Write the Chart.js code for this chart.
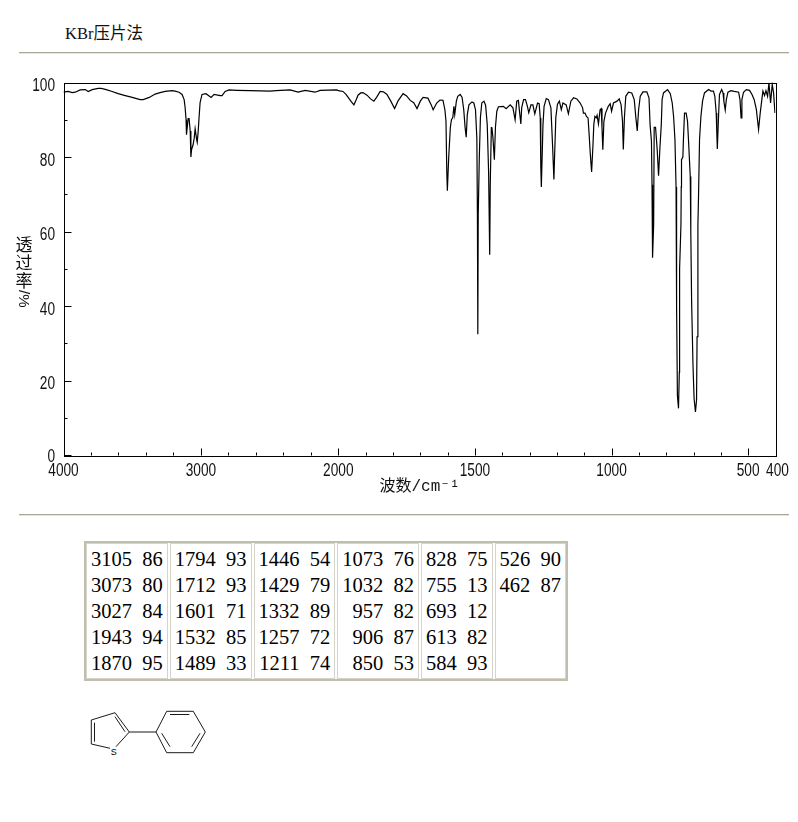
<!DOCTYPE html>
<html>
<head>
<meta charset="utf-8">
<title>KBr</title>
<script src="https://cdn.jsdelivr.net/npm/chart.js@4/dist/chart.umd.js"></script>
<style>
html, body { margin: 0; padding: 0; background: #fff; width: 798px; height: 822px; overflow: hidden; }
#spectrum { position: absolute; left: 0; top: 60px; }
.rule { position: absolute; left: 19px; width: 770px; height: 1px; background: #aca899; border-bottom: 1px solid #e4e3dc; }
#method { position: absolute; left: 65px; top: 20px; font: 16.5px "Liberation Serif", "Noto Sans CJK SC", serif; color: #111; }
#ylabel { position: absolute; left: 15px; top: 235px; width: 18px; font: 17px/18px "Noto Sans CJK SC", sans-serif; color: #111; text-align: center; }
#ylabel span { display: block; }
#ylabel .side { writing-mode: vertical-rl; text-orientation: sideways; height: 20px; line-height: 18px; font-family: "Liberation Sans", sans-serif; font-size: 15px; }
#peaks { position: absolute; left: 84px; top: 541px; display: flex; gap: 2px; border: 2px solid #c0bead; font: 20.5px/26px "Liberation Serif", serif; color: #000; }
#peaks div { border: 1px solid #d6d4c9; padding: 2px 4px 2px 4px; height: 130px; text-align: right; white-space: pre; }
#molecule { position: absolute; left: 80px; top: 700px; }
</style>
</head>
<body>
<div id="method">KBr压片法</div>
<div class="rule" style="top:52px"></div>
<canvas id="spectrum" width="798" height="450"></canvas>
<div id="ylabel"><span>透</span><span>过</span><span>率</span><span class="side">/%</span></div>
<div class="rule" style="top:514px"></div>
<div id="peaks"></div>
<svg id="molecule" width="135" height="62" viewBox="80 700 135 62" fill="none" stroke="#000" stroke-width="0.9">
  <path d="M110 748.3 L91.3 744 L91.3 720 L115 712.7 L129.3 732 L116 746.7"/>
  <path d="M94.5 722.7 V741.7 M115 716.7 L125 731.7"/>
  <path d="M129.3 732 H156 L166.7 711.3 H193.3 L205.3 732 L193.3 752.7 H166.7 L156 732"/>
  <path d="M170 714.5 H189.3 M191.7 746.7 L200 733.3 M161.7 733.3 L170 746.7"/>
  <text x="113.7" y="755" text-anchor="middle" fill="#000" stroke="none" font-family="Liberation Sans" font-size="9">S</text>
</svg>

<script>
// wavenumber (cm-1) and transmittance (%)
const wavenumbers = [
    4000, 3966, 3937, 3915, 3878, 3842, 3820, 3791, 3748, 3726,
    3689, 3646, 3602, 3551, 3500, 3442, 3420, 3376, 3333, 3297,
    3260, 3209, 3188, 3159, 3137, 3122, 3115, 3108, 3105, 3093,
    3086, 3078, 3073, 3068, 3057, 3049, 3042, 3031, 3027, 3020,
    3013, 3006, 2992, 2963, 2926, 2904, 2860, 2846, 2824, 2795,
    2737, 2642, 2497, 2453, 2351, 2293, 2242, 2169, 2133, 2010,
    2000, 1983, 1972, 1964, 1952, 1943, 1935, 1928, 1918, 1910,
    1895, 1882, 1870, 1860, 1847, 1835, 1822, 1808, 1794, 1782,
    1763, 1750, 1737, 1724, 1712, 1700, 1690, 1672, 1660, 1653,
    1640, 1628, 1617, 1610, 1606, 1603, 1601, 1596, 1590, 1586,
    1581, 1577, 1574, 1568, 1563, 1554, 1547, 1541, 1536, 1532,
    1528, 1522, 1511, 1504, 1498, 1493, 1491, 1490, 1489, 1488,
    1484, 1480, 1475, 1467, 1461, 1455, 1450, 1446, 1444, 1440,
    1438, 1434, 1429, 1425, 1420, 1414, 1396, 1386, 1371, 1361,
    1353, 1347, 1341, 1337, 1332, 1329, 1322, 1315, 1308, 1303,
    1295, 1288, 1281, 1271, 1265, 1261, 1259, 1257, 1251, 1247,
    1239, 1231, 1222, 1216, 1211, 1208, 1204, 1198, 1191, 1184,
    1178, 1166, 1158, 1149, 1139, 1127, 1115, 1106, 1103, 1097,
    1092, 1086, 1082, 1078, 1073, 1068, 1065, 1061, 1056, 1053,
    1048, 1042, 1038, 1035, 1032, 1028, 1022, 1012, 1005, 1000,
    993, 980, 972, 965, 960, 957, 953, 948, 938, 926,
    917, 911, 906, 901, 895, 885, 871, 863, 859, 854,
    852, 850, 846, 844, 839, 837, 833, 828, 823, 818,
    815, 810, 795, 785, 778, 773, 768, 764, 762, 759,
    755, 752, 751, 746, 745, 744, 739, 737, 733, 727,
    722, 718, 712, 710, 707, 702, 698, 693, 689, 687,
    684, 682, 678, 673, 667, 660, 645, 636, 627, 622,
    617, 615, 613, 608, 605, 597, 592, 589, 584, 580,
    574, 563, 551, 535, 530, 526, 523, 517, 507, 495,
    486, 478, 470, 462, 456, 450, 446, 440, 435, 429,
    424, 418, 412, 407, 402
];
const transmittance = [
    97.4, 97.6, 97.3, 97.4, 98, 98.1, 97.6, 98.1, 98.4, 98.4,
    98.1, 97.6, 97, 96.5, 96, 95.4, 95.4, 96, 96.9, 97.3,
    97.6, 97.8, 97.7, 97.4, 96.8, 95.4, 93.3, 90, 86, 90.3,
    90.3, 87, 80, 82, 83.3, 85, 87.6, 84.7, 84, 86.8,
    90.9, 94.6, 96.8, 97, 96, 96.8, 96.5, 96.5, 97.6, 98,
    97.9, 97.8, 97.7, 97.8, 98, 97.4, 97.9, 97.4, 97.9, 98,
    97.8, 97.6, 96.8, 96, 94.8, 94, 95.3, 96.6, 97.2, 97.3,
    96.6, 95.6, 95, 96, 97.6, 97.5, 96.8, 95, 93, 95,
    97, 96.4, 95.2, 94.6, 93, 95, 96, 95.8, 94, 92.7,
    94.5, 95.3, 95.2, 92.7, 89.6, 75.8, 71, 80, 88, 90,
    90.6, 93.6, 91.4, 95, 96.3, 96.8, 96, 92.7, 87.9, 85.3,
    91.4, 94, 94.8, 94.5, 92.7, 85, 64.5, 40, 32.5, 64.5,
    80, 90.6, 94.5, 95, 93.9, 88.7, 76, 53.8, 72.6, 87.9,
    88, 85, 79.3, 88, 92.3, 93.5, 93.6, 93, 94, 93.2,
    90, 95, 95.2, 92.3, 88.9, 93.2, 95.4, 95.4, 93.6, 91.9,
    94, 94, 91.6, 94.5, 94.3, 90.5, 77.5, 72, 88.7, 93.6,
    95.7, 95.4, 93.2, 83.3, 74, 81.5, 90.6, 94.2, 95, 92.7,
    94.5, 94, 91.6, 95, 95.9, 95.6, 94.5, 93.2, 91.8, 91.8,
    90.9, 90.5, 86, 81, 76, 83.3, 88.7, 90.9, 90.5, 91.2,
    88.9, 92.7, 93, 88, 82, 89.6, 91.8, 93.6, 94.3, 92.3,
    94.5, 95, 95.6, 94, 89.6, 82, 90.5, 96.3, 97.4, 97.2,
    95.4, 90.5, 87, 92.7, 96.3, 97.5, 97.5, 95.9, 88.7, 84.2,
    72.6, 53, 61.8, 88, 88, 86, 82, 75, 82.5, 88.7,
    95.4, 97.2, 98.1, 97, 94.5, 90.9, 84.7, 72, 40, 16,
    12.6, 22.3, 50, 62, 72, 79.3, 80, 84.7, 91.8, 91.8,
    89.6, 83.9, 74.8, 60, 41.2, 24.2, 15.3, 11.6, 14.8, 31.8,
    61.8, 68.5, 84.7, 90.9, 95, 97.2, 98.1, 97.7, 97.7, 96.3,
    91.8, 87, 82.2, 91.8, 96.8, 98.1, 97.2, 95, 92.6, 95.4,
    97.4, 97.8, 97.6, 97.4, 95.4, 90.5, 95.4, 97.4, 98.1, 97.9,
    96.8, 95.4, 92.7, 87.4, 91.8, 95.4, 97.7, 96.5, 97.8, 96.3,
    99.9, 94.5, 99.5, 97.2, 91.8
];

// axis ticks
const xMajorTicks = [4000, 3000, 2000, 1500, 1000, 500, 400];
const xMinorTicks = [3800, 3600, 3400, 3200, 2800, 2600, 2400, 2200,
    1900, 1800, 1700, 1600, 1400, 1300, 1200, 1100, 900, 800, 700, 600];
const yMajorTicks = [0, 20, 40, 60, 80, 100];

// peak table, one list per column
const peakWavenumbers = [
    [3105, 3073, 3027, 1943, 1870],
    [1794, 1712, 1601, 1532, 1489],
    [1446, 1429, 1332, 1257, 1211],
    [1073, 1032, 957, 906, 850],
    [828, 755, 693, 613, 584],
    [526, 462]
];
const peakValues = [
    [86, 80, 84, 94, 95],
    [93, 93, 71, 85, 33],
    [54, 79, 89, 72, 74],
    [76, 82, 82, 87, 53],
    [75, 13, 12, 82, 93],
    [90, 87]
];

const peaksBox = document.getElementById("peaks");
peakWavenumbers.forEach((col, i) => {
    const cell = document.createElement("div");
    cell.textContent = col.map((w, j) => w + "  " + peakValues[i][j]).join("\n");
    peaksBox.appendChild(cell);
});

// the x axis runs at half scale above 2000 cm-1
const breakShare = 0.386;
class WavenumberScale extends Chart.LinearScale {
    getPixelForValue(value) {
        const share = value >= 2000
            ? (4000 - value) / 2000 * breakShare
            : breakShare + (2000 - value) / 1600 * (1 - breakShare);
        return this.left + share * this.width;
    }
    getValueForPixel(pixel) {
        const share = (pixel - this.left) / this.width;
        return share <= breakShare
            ? 4000 - share / breakShare * 2000
            : 2000 - (share - breakShare) / (1 - breakShare) * 1600;
    }
}
WavenumberScale.id = "wavenumber";
WavenumberScale.defaults = Chart.LinearScale.defaults;
Chart.register(WavenumberScale);

// squeezed tick label, the original axis font is a tall narrow one
function narrowLabel(ctx, text, x, y, align) {
    ctx.save();
    ctx.translate(x, y);
    ctx.scale(0.76, 1);
    ctx.textAlign = align;
    ctx.fillText(text, 0, 0);
    ctx.restore();
}

// frame, inward tick marks and tick labels
const framePlugin = {
    id: "frame",
    afterDraw(chart) {
        const ctx = chart.ctx, a = chart.chartArea;
        const x = chart.scales.x, y = chart.scales.y;
        const left = Math.round(a.left), bottom = Math.round(a.bottom);
        ctx.save();
        ctx.strokeStyle = "#000";
        ctx.lineWidth = 1;
        ctx.translate(0.5, 0.5);
        ctx.strokeRect(left, Math.round(a.top), Math.round(a.width), Math.round(a.height));
        ctx.beginPath();
        x.ticks.forEach(t => {
            const px = Math.round(x.getPixelForValue(t.value));
            const len = xMajorTicks.includes(t.value) ? 7 : 3;
            ctx.moveTo(px, bottom);
            ctx.lineTo(px, bottom - len);
        });
        y.ticks.forEach(t => {
            const py = Math.round(y.getPixelForValue(t.value));
            const len = yMajorTicks.includes(t.value) ? 7 : 3;
            ctx.moveTo(left, py);
            ctx.lineTo(left + len, py);
        });
        ctx.stroke();
        ctx.restore();

        ctx.save();
        ctx.fillStyle = "#111";
        ctx.font = '18px "Liberation Sans", sans-serif';
        ctx.textBaseline = "middle";
        xMajorTicks.forEach(v => {
            narrowLabel(ctx, String(v), x.getPixelForValue(v) + (v === 400 ? 2 : 0), a.bottom + 16, "center");
        });
        yMajorTicks.forEach(v => {
            narrowLabel(ctx, String(v), a.left - 8.5, y.getPixelForValue(v) + (v === 0 ? 2 : 3.5), "right");
        });
        ctx.restore();
    }
};

new Chart(document.getElementById("spectrum"), {
    type: "line",
    data: {
        datasets: [{
            data: wavenumbers.map((w, i) => ({ x: w, y: transmittance[i] })),
            borderColor: "#000",
            borderWidth: 1.2,
            pointRadius: 0,
            tension: 0,
            fill: false
        }]
    },
    options: {
        responsive: false,
        animation: false,
        devicePixelRatio: 1,
        layout: { autoPadding: false, padding: { left: 0, right: 22.5, top: 22.5, bottom: 0 } },
        plugins: { legend: { display: false }, tooltip: { enabled: false } },
        scales: {
            x: {
                type: "wavenumber",
                min: 400,
                max: 4000,
                grid: { display: false, drawTicks: false },
                border: { display: false },
                afterBuildTicks: scale => {
                    scale.ticks = xMajorTicks.concat(xMinorTicks).map(v => ({ value: v }));
                },
                afterFit: scale => { scale.height = 54.7; },
                ticks: { display: false, autoSkip: false },
                title: {
                    display: true,
                    text: "波数/cm⁻¹",
                    color: "#111",
                    font: { family: '"Liberation Mono", "Noto Sans CJK SC", monospace', size: 16 },
                    padding: { top: 0, bottom: 14 }
                }
            },
            y: {
                min: 0,
                max: 100,
                grid: { display: false, drawTicks: false },
                border: { display: false },
                afterFit: scale => { scale.width = 63.5; },
                ticks: { display: false, stepSize: 10, autoSkip: false }
            }
        }
    },
    plugins: [framePlugin]
});
</script>
</body>
</html>
